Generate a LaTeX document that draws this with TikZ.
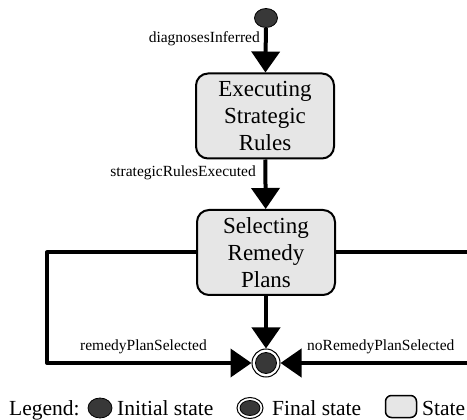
\documentclass[tikz,border=0pt]{standalone}
\usepackage{fontspec}
\setmainfont{Liberation Serif}
\usetikzlibrary{arrows.meta,shapes.geometric}
\definecolor{stfill}{HTML}{E6E6E6}
\definecolor{darkst}{HTML}{383838}
\begin{document}
\begin{tikzpicture}[x=1pt,y=-1pt,
  statebox/.style={draw, line width=2pt, rounded corners=12pt, fill=stfill,
    minimum width=138pt, minimum height=85pt, align=center,
    font=\fontsize{23}{27}\selectfont, inner sep=0pt},
  initst/.style={ellipse, draw, line width=0.8pt, fill=darkst, minimum width=23pt, minimum height=19pt, inner sep=0pt},
  finalout/.style={ellipse, draw, line width=1pt, fill=white, minimum width=28pt, minimum height=28pt, inner sep=0pt},
  finalin/.style={ellipse, draw, line width=0.8pt, fill=darkst, minimum width=21pt, minimum height=21pt, inner sep=0pt},
  conn/.style={line width=4pt, line join=round, -{Triangle[length=21pt,width=28pt]}},
  lbl/.style={font=\fontsize{15.5}{18}\selectfont, inner sep=0pt},
  leg/.style={font=\fontsize{21.5}{25}\selectfont, inner sep=0pt}]
\useasboundingbox (0,0) rectangle (467,420);

% states
\node[initst] (init) at (266,18) {};
\node[statebox] (exec) at (265,116) {Executing\\Strategic\\Rules};
\node[statebox] (sel) at (266,252.5) {Selecting\\Remedy\\Plans};
\node[finalout] (final) at (266,363) {};
\node[finalin] (finalc) at (266,363) {};

% connectors
\draw[conn] (init) -- (exec);
\draw[conn] (exec) -- (sel);
\draw[conn] (sel) -- (final);
\coordinate (lc) at (47,363);
\coordinate (rc) at (469,363);
\draw[conn] (sel.west) -| (lc) -- (final);
\draw[conn] (sel.east) -| (rc) -- (final);

% labels
\node[lbl, anchor=base east] (l1) at (260,43) {diagnosesInferred};
\node[lbl, anchor=base east] (l2) at (256,177) {strategicRulesExecuted};
\node[lbl, anchor=base west] (l3) at (80,350) {remedyPlanSelected};
\node[lbl, anchor=base west] (l4) at (307,350) {noRemedyPlanSelected};

% legend
\node[leg, anchor=base west] (legt) at (9,416) {Legend:};
\node[ellipse, draw, line width=0.8pt, fill=darkst, minimum width=24pt, minimum height=20pt, inner sep=0pt] (legi) at (100,408) {};
\node[leg, anchor=base west] (legit) at (117,416) {Initial state};
\node[ellipse, draw, line width=1pt, fill=white, minimum width=26pt, minimum height=21pt, inner sep=0pt] (legf) at (250,408) {};
\node[ellipse, draw, line width=0.8pt, fill=darkst, minimum width=20pt, minimum height=15pt, inner sep=0pt] (legfi) at (250,408) {};
\node[leg, anchor=base west] (legft) at (272,416) {Final state};
\node[draw, line width=1.5pt, rounded corners=6pt, fill=stfill, minimum width=31pt, minimum height=22pt, inner sep=0pt] (legs) at (401,406.5) {};
\node[leg, anchor=base west] (legst) at (422,416) {State};
\end{tikzpicture}
\end{document}
